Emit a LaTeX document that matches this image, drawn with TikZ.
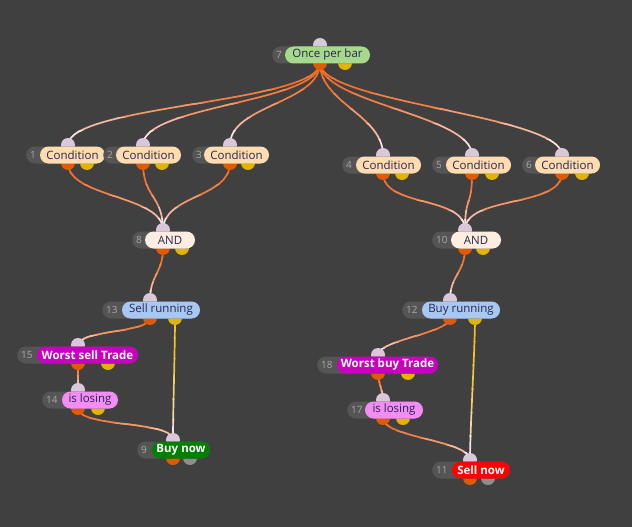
\documentclass[tikz,border=0pt]{standalone}
\usepackage{fontspec}
\setmainfont{Open Sans}
\usetikzlibrary{positioning,calc}

\definecolor{canvas}{HTML}{404040}
\definecolor{numgrey}{HTML}{555555}
\definecolor{numtext}{HTML}{A8A8A8}
\definecolor{inport}{HTML}{D8C8DA}
\definecolor{outorange}{HTML}{E25A00}
\definecolor{outyellow}{HTML}{E2B400}
\definecolor{outgrey}{HTML}{8E8E8E}
\definecolor{wireorange}{HTML}{F26E28}
\definecolor{wireyellow}{HTML}{F0C020}
\definecolor{wirepale}{HTML}{F8E4E4}
\definecolor{oncec}{HTML}{A6D98A}
\definecolor{condc}{HTML}{FFDBB0}
\definecolor{andc}{HTML}{FFEDE2}
\definecolor{runc}{HTML}{A8C8F2}
\definecolor{worstc}{HTML}{C800C0}
\definecolor{losec}{HTML}{F38CF3}
\definecolor{buyc}{HTML}{008000}
\definecolor{sellc}{HTML}{FF0000}
\definecolor{inkc}{HTML}{262650}

\pgfdeclarelayer{wires}
\pgfsetlayers{wires,main}

\begin{document}
\begin{tikzpicture}[x=1pt, y=-1pt,
	numbox/.style={fill=numgrey, rounded corners=8.5pt, minimum height=17pt, inner sep=0pt, anchor=west},
	numlabel/.style={text=numtext, font=\fontsize{10}{11}\selectfont, inner sep=0pt},
	pill/.style={rounded corners=8.5pt, minimum height=17pt, inner sep=0pt, text=inkc, font=\fontsize{11.5}{12}\selectfont},
	strong/.style={pill, text=white, font=\fontsize{11.5}{12}\selectfont\bfseries},
	portin/.style={circle, fill=inport, minimum size=14pt, inner sep=0pt},
	portout/.style={circle, fill=outorange, minimum size=14pt, inner sep=0pt},
	portyel/.style={portout, fill=outyellow},
	portgrey/.style={portout, fill=outgrey},
	wire/.style={line width=1.7pt}]

	\useasboundingbox (0,0) rectangle (632,527);
	\begin{pgfonlayer}{wires}
		\fill[canvas] (0,0) rectangle (632,527);
	\end{pgfonlayer}

	% 7 Once per bar
	\node[portin] (i7) at (320,45) {};
	\node[portyel] (y7) at (345,63) {};
	\node[portout] (o7) at (320,63) {};
	\node[numbox, minimum width=98pt] (g7) at (272,55) {};
	\node[numlabel, right=4pt of g7.west] {7};
	\node[pill, fill=oncec, minimum width=85pt] (n7) at (327.5,55) {Once per bar};

	% conditions, left side
	\node[portin] (i1) at (68,145) {};
	\node[portyel] (y1) at (87,163) {};
	\node[portout] (o1) at (68,163) {};
	\node[numbox, minimum width=79pt] (g1) at (26,155) {};
	\node[numlabel, right=4pt of g1.west] {1};
	\node[pill, fill=condc, minimum width=65pt] (n1) at (72.5,155) {Condition};

	\node[portin] (i2) at (143,145) {};
	\node[portyel] (y2) at (162,163) {};
	\node[portout] (o2) at (143,163) {};
	\node[numbox, minimum width=78pt] (g2) at (103,155) {};
	\node[numlabel, right=4pt of g2.west] {2};
	\node[pill, fill=condc, minimum width=65pt] (n2) at (148.5,155) {Condition};

	\node[portin] (i3) at (230,145) {};
	\node[portyel] (y3) at (248,163) {};
	\node[portout] (o3) at (230,163) {};
	\node[numbox, minimum width=77pt] (g3) at (192,155) {};
	\node[numlabel, right=4pt of g3.west] {3};
	\node[pill, fill=condc, minimum width=65pt] (n3) at (236.5,155) {Condition};

	% conditions, right side
	\node[portin] (i4) at (383,155) {};
	\node[portyel] (y4) at (402,173) {};
	\node[portout] (o4) at (383,173) {};
	\node[numbox, minimum width=79pt] (g4) at (342,165) {};
	\node[numlabel, right=4pt of g4.west] {4};
	\node[pill, fill=condc, minimum width=65pt] (n4) at (388.5,165) {Condition};

	\node[portin] (i5) at (472,155) {};
	\node[portyel] (y5) at (492,173) {};
	\node[portout] (o5) at (472,173) {};
	\node[numbox, minimum width=79pt] (g5) at (432,165) {};
	\node[numlabel, right=4pt of g5.west] {5};
	\node[pill, fill=condc, minimum width=65pt] (n5) at (478.5,165) {Condition};

	\node[portin] (i6) at (562,155) {};
	\node[portyel] (y6) at (582,173) {};
	\node[portout] (o6) at (562,173) {};
	\node[numbox, minimum width=78pt] (g6) at (522,165) {};
	\node[numlabel, right=4pt of g6.west] {6};
	\node[pill, fill=condc, minimum width=65pt] (n6) at (567.5,165) {Condition};

	% AND
	\node[portin] (i8) at (163,230) {};
	\node[portyel] (y8) at (182,248) {};
	\node[portout] (o8) at (163,248) {};
	\node[numbox, minimum width=63pt] (g8) at (132,240) {};
	\node[numlabel, right=4pt of g8.west] {8};
	\node[pill, fill=andc, minimum width=50pt] (n8) at (170,240) {AND};

	\node[portin] (i10) at (465,230) {};
	\node[portyel] (y10) at (483,248) {};
	\node[portout] (o10) at (465,248) {};
	\node[numbox, minimum width=69pt] (g10) at (432,240) {};
	\node[numlabel, right=4pt of g10.west] {10};
	\node[pill, fill=andc, minimum width=50pt] (n10) at (476,240) {AND};

	% running
	\node[portin] (i13) at (150,300) {};
	\node[portyel] (y13) at (175,318) {};
	\node[portout] (o13) at (150,318) {};
	\node[numbox, minimum width=98pt] (g13) at (102,310) {};
	\node[numlabel, right=4pt of g13.west] {13};
	\node[pill, fill=runc, minimum width=78pt] (n13) at (161,310) {Sell running};

	\node[portin] (i12) at (450,300) {};
	\node[portyel] (y12) at (475,318) {};
	\node[portout] (o12) at (450,318) {};
	\node[numbox, minimum width=98pt] (g12) at (402,310) {};
	\node[numlabel, right=4pt of g12.west] {12};
	\node[pill, fill=runc, minimum width=78pt] (n12) at (461,310) {Buy running};

	% worst trade
	\node[portin] (i15) at (78,345) {};
	\node[portyel] (y15) at (108,363) {};
	\node[portout] (o15) at (78,363) {};
	\node[numbox, minimum width=121pt] (g15) at (17,355) {};
	\node[numlabel, right=4pt of g15.west] {15};
	\node[strong, fill=worstc, minimum width=101pt] (n15) at (87.5,355) {Worst sell Trade};

	\node[portin] (i18) at (378,355) {};
	\node[portyel] (y18) at (408,373) {};
	\node[portout] (o18) at (378,373) {};
	\node[numbox, minimum width=121pt] (g18) at (317,365) {};
	\node[numlabel, right=4pt of g18.west] {18};
	\node[strong, fill=worstc, minimum width=101pt] (n18) at (387.5,365) {Worst buy Trade};

	% is losing
	\node[portin] (i14) at (78,390) {};
	\node[portyel] (y14) at (98,408) {};
	\node[portout] (o14) at (78,408) {};
	\node[numbox, minimum width=76pt] (g14) at (42,400) {};
	\node[numlabel, right=4pt of g14.west] {14};
	\node[pill, fill=losec, minimum width=56pt] (n14) at (90,400) {is losing};

	\node[portin] (i17) at (383,400) {};
	\node[portyel] (y17) at (403,418) {};
	\node[portout] (o17) at (383,418) {};
	\node[numbox, minimum width=76pt] (g17) at (347,410) {};
	\node[numlabel, right=4pt of g17.west] {17};
	\node[pill, fill=losec, minimum width=58pt] (n17) at (394,410) {is losing};

	% orders
	\node[portin] (i9) at (173,440) {};
	\node[portgrey] (z9) at (190,458) {};
	\node[portout] (o9) at (173,458) {};
	\node[numbox, minimum width=73pt] (g9) at (137,450) {};
	\node[numlabel, right=4pt of g9.west] {9};
	\node[strong, fill=buyc, minimum width=58pt] (n9) at (181,450) {Buy now};

	\node[portin] (i11) at (470,460) {};
	\node[portgrey] (z11) at (488,478) {};
	\node[portout] (o11) at (470,478) {};
	\node[numbox, minimum width=78pt] (g11) at (432,470) {};
	\node[numlabel, right=4pt of g11.west] {11};
	\node[strong, fill=sellc, minimum width=58pt] (n11) at (481,470) {Sell now};

	% wires, coloured in bands from the output colour to pale
	\begin{pgfonlayer}{wires}
		\foreach \a/\b/\d/\c in {o7/i1/40/wireorange, o7/i2/40/wireorange, o7/i3/40/wireorange,
			o7/i4/40/wireorange, o7/i5/40/wireorange, o7/i6/40/wireorange,
			o1/i8/35/wireorange, o2/i8/35/wireorange, o3/i8/35/wireorange,
			o4/i10/35/wireorange, o5/i10/35/wireorange, o6/i10/35/wireorange,
			o8/i13/25/wireorange, o10/i12/25/wireorange, o13/i15/15/wireorange,
			o15/i14/10/wireorange, o14/i9/20/wireorange, o12/i18/15/wireorange,
			o18/i17/10/wireorange, o17/i11/20/wireorange,
			y13/i9/30/wireyellow, y12/i11/30/wireyellow} {
			\foreach \k [evaluate=\k as \m using int(100-4*\k*\k)] in {0,...,5} {
				\begin{scope}
					\clip let \p1=(\a.center), \p2=(\b.center) in
						(0pt,{\y1+(\y2-(\y1))*\k/6+0.6pt}) rectangle (632pt,{\y1+(\y2-(\y1))*(\k+1)/6});
					\draw[wire, \c!\m!wirepale] (\a.center) .. controls +(0,\d) and +(0,-\d) .. (\b.center);
				\end{scope}
			}
		}
	\end{pgfonlayer}
\end{tikzpicture}
\end{document}
